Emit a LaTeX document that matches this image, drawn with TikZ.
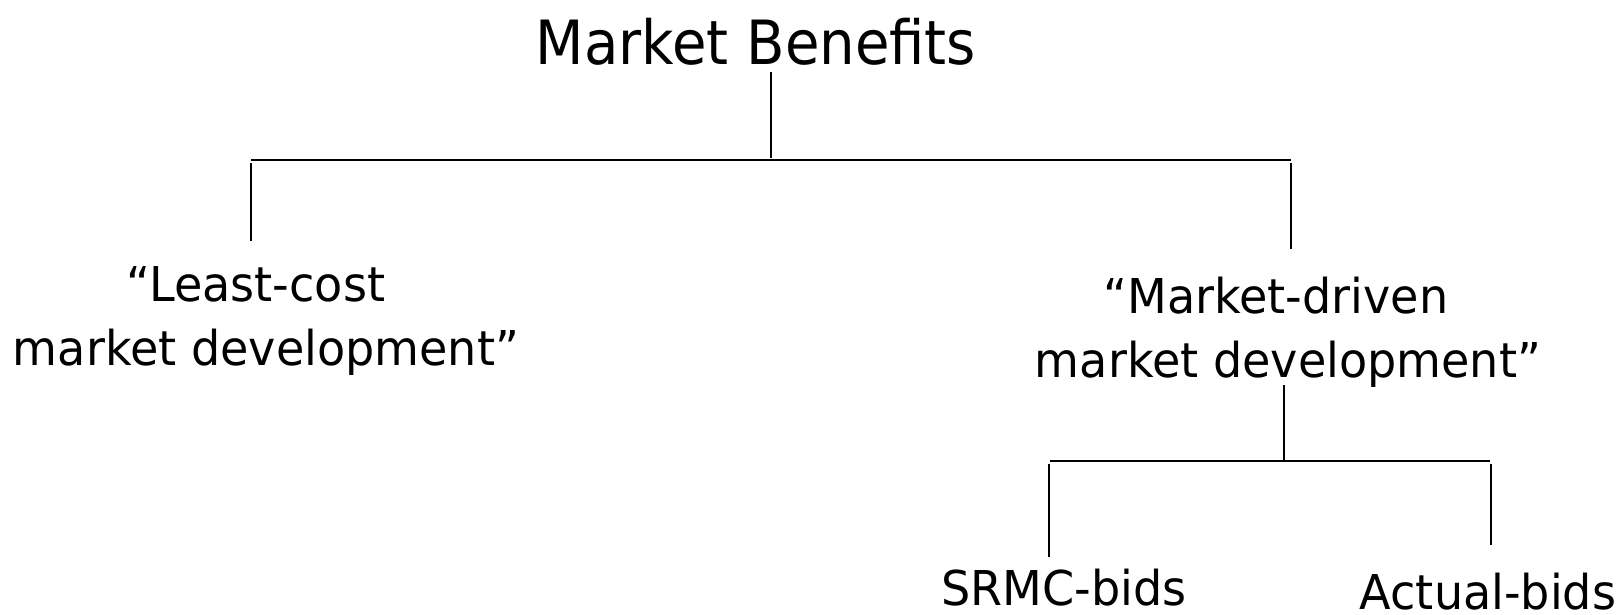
\documentclass[tikz,border=0pt]{standalone}
\usepackage{fontspec}
\setmainfont[FakeStretch=0.92]{DejaVu Sans}
\newfontfamily\bodyfont[FakeStretch=0.96]{DejaVu Sans}
\begin{document}
\begin{tikzpicture}[x=1pt,y=-1pt,
  big/.style={anchor=base,inner sep=0pt,font=\fontsize{61}{70}\selectfont},
  txt/.style={anchor=base,inner sep=0pt,font=\bodyfont\fontsize{48}{56}\selectfont},
  thin/.style={line width=1.2pt},
  thick/.style={line width=2.4pt}]
\useasboundingbox (0,0) rectangle (1623,614);
% texts
\node[big] (title) at (756,64) {Market Benefits};
\node[txt] (lc1) at (256,301) {“Least-cost};
\node[txt] (lc2) at (266,365) {market development”};
\node[txt] (md1) at (1276,313) {“Market-driven};
\node[txt] (md2) at (1288,377) {market development”};
\node[txt] (srmc) at (1064,605) {SRMC-bids};
\node[txt] (act) at (1488,609) {Actual-bids};
% junction coordinates
\coordinate (t0) at (771,72);
\coordinate (t1) at (771,158);
\coordinate (hL) at (251,160);
\coordinate (hR) at (1291,160);
\coordinate (l0) at (251,163);
\coordinate (l1) at (251,241);
\coordinate (r0) at (1291,163);
\coordinate (r1) at (1291,249);
\coordinate (m0) at (1284,385);
\coordinate (m1) at (1284,460);
\coordinate (kL) at (1050,461);
\coordinate (kR) at (1490,461);
\coordinate (s0) at (1049,464);
\coordinate (s1) at (1049,557);
\coordinate (a0) at (1491,464);
\coordinate (a1) at (1491,545);
% connectors
\draw[thin] (t0) -- (t1);
\draw[thick] (hL) -- (hR);
\draw[thin] (l0) -- (l1);
\draw[thin] (r0) -- (r1);
\draw[thin] (m0) -- (m1);
\draw[thick] (kL) -- (kR);
\draw[thin] (s0) -- (s1);
\draw[thin] (a0) -- (a1);
\end{tikzpicture}
\end{document}
